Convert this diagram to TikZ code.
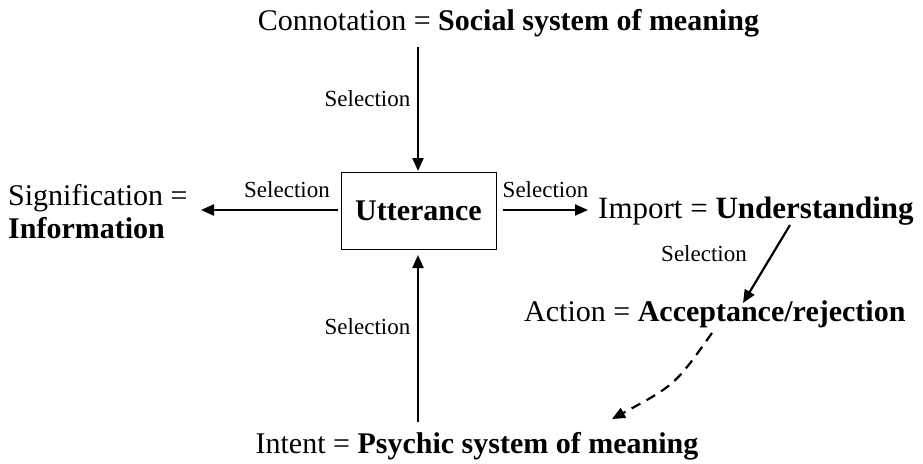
\documentclass[tikz,border=0pt]{standalone}
\usepackage{fontspec}
\setmainfont{Liberation Serif}
\usetikzlibrary{arrows.meta}
\begin{document}
\begin{tikzpicture}[x=1pt,y=-1pt,
  main/.style={font=\fontsize{30}{33}\selectfont, inner sep=0pt},
  lbl/.style={font=\fontsize{23}{25}\selectfont, inner sep=0pt},
  arr/.style={line width=2.2pt, -{Triangle[length=13pt,width=11pt]}},
  ubox/.style={draw, line width=1pt, minimum width=155pt, minimum height=77pt, inner sep=0pt, font=\fontsize{30}{33}\selectfont\bfseries}]
\useasboundingbox (0,0) rectangle (923,463);
% central node and the five meaning terms around it
\node[ubox] (utt) at (418.5,210.5) {Utterance};
\node[main, anchor=base] (conn) at (508.5,30) {Connotation = \textbf{Social system of meaning}};
\node[main, anchor=base west] (sig) at (8,205) {Signification =};
\node[main, anchor=base west] (inf) at (8,238) {\textbf{Information}};
\node[main, anchor=base west, font=\fontsize{31}{33}\selectfont] (imp) at (598,218) {Import = \textbf{Understanding}};
\node[main, anchor=base west] (act) at (524,321) {Action = \textbf{Acceptance/rejection}};
\node[main, anchor=base] (int) at (477,453) {Intent = \textbf{Psychic system of meaning}};
% helper points for arrow ends
\coordinate (c1) at (418,47);
\coordinate (c2) at (418,171);
\coordinate (i1) at (418,422);
\coordinate (i2) at (418,255);
\coordinate (s0) at (338,210);
\coordinate (s1) at (201,210);
\coordinate (m0) at (503,210);
\coordinate (m1) at (588,210);
\coordinate (u1) at (790,225);
\coordinate (u2) at (743,303);
\coordinate (a1) at (712,333);
\coordinate (a2) at (612,419);
% selection arrows
\draw[arr] (c1) -- (c2);
\draw[arr] (i1) -- (i2);
\draw[arr] (s0) -- (s1);
\draw[arr] (m0) -- (m1);
\draw[arr] (u1) -- (u2);
\draw[arr, dash pattern=on 10pt off 7pt] (a1) .. controls (675,385) .. (a2);
% selection labels
\node[lbl] (l1) at (367.5,99) {Selection};
\node[lbl] (l2) at (367.5,327) {Selection};
\node[lbl] (l3) at (287,190) {Selection};
\node[lbl] (l4) at (545.5,190) {Selection};
\node[lbl] (l5) at (704,254) {Selection};
\end{tikzpicture}
\end{document}
